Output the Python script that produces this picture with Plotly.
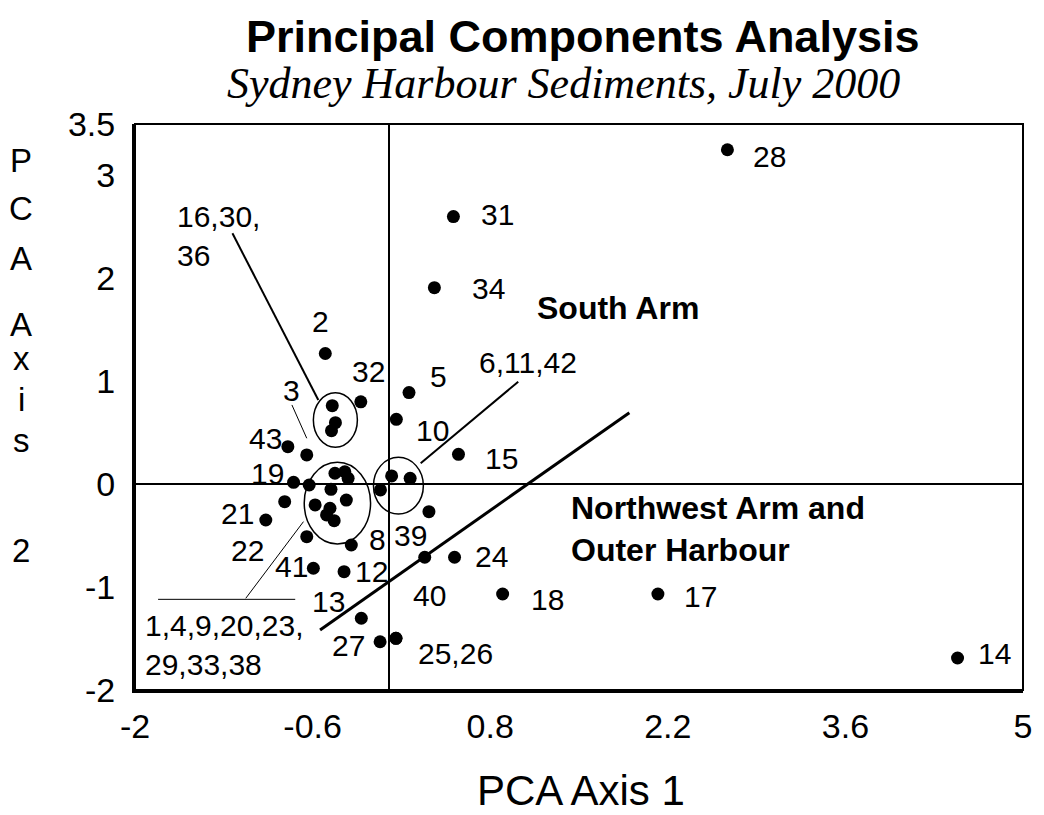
import plotly.graph_objects as go

# ---- data ----
sites = ["28", "31", "34", "2", "32", "5", "10", "15",
         "16", "30", "36", "3", "43", "19",
         "6", "11", "42",
         "1", "4", "9", "20", "23", "29", "33", "38",
         "unlabelled a", "unlabelled b", "unlabelled c",
         "21", "22", "41", "12", "8", "13", "27", "25", "26",
         "39", "40", "24", "18", "17", "14"]
pc1 = [2.67, 0.51, 0.36, -0.50, -0.22, 0.16, 0.06, 0.55,
       -0.445, -0.42, -0.451, -0.646, -0.795, -0.75,
       0.023, 0.169, -0.065,
       -0.424, -0.346, -0.320, -0.455, -0.334, -0.580, -0.463, -0.490,
       -0.430, -0.627, -0.820,
       -0.969, -0.646, -0.594, -0.352, -0.295, -0.216, -0.068, 0.057, 0.057,
       0.317, 0.284, 0.519, 0.898, 2.122, 4.484]
pc2 = [3.25, 2.60, 1.91, 1.27, 0.80, 0.89, 0.63, 0.29,
       0.763, 0.598, 0.520, 0.284, 0.364, 0.018,
       0.080, 0.057, -0.056,
       0.106, 0.121, 0.057, -0.050, -0.154, -0.202, -0.234, -0.299,
       -0.355, -0.008, -0.170,
       -0.348, -0.510, -0.817, -0.850, -0.591, -1.303, -1.531, -1.498, -1.498,
       -0.267, -0.710, -0.710, -1.067, -1.067, -1.689]

x_ticks = [-2, -0.6, 0.8, 2.2, 3.6, 5]
x_tick_labels = ["-2", "-0.6", "0.8", "2.2", "3.6", "5"]
y_ticks = [-2, -1, 0, 1, 2, 3, 3.5]
y_tick_labels = ["-2", "-1", "0", "1", "2", "3", "3.5"]

# point label text and where it sits (data coords)
label_text = ["28", "31", "34", "2", "32", "5", "6,11,42", "3", "10", "15",
              "43", "19", "21", "22", "41", "12", "8", "39", "13", "40",
              "24", "27", "25,26", "18", "17", "14"]
label_x = [3.004, 0.856, 0.789, -0.534, -0.159, 0.396, 1.094, -0.763, 0.344, 0.891,
           -0.971, -0.959, -1.193, -1.115, -0.763, -0.138, -0.091, 0.170, -0.477, 0.318,
           0.813, -0.320, 0.526, 1.25, 2.459, 4.772]
label_y = [3.183, 2.616, 1.904, 1.579, 1.093, 1.045, 1.178, 0.915, 0.520, 0.252,
           0.446, 0.106, -0.283, -0.646, -0.802, -0.850, -0.535, -0.494, -1.142, -1.077,
           -0.705, -1.563, -1.643, -1.125, -1.093, -1.650]

# group ellipses (x0, x1, y0, y1)
groups = [(-0.594, -0.247, 0.359, 0.889),
          (-0.666, -0.143, -0.581, 0.213),
          (-0.120, 0.273, -0.290, 0.261)]

# leader / divider lines (x0, y0, x1, y1, width)
leaders = [(-0.555, 0.818, -1.232, 2.438, 2),
           (-0.763, 0.770, -0.646, 0.446, 1),
           (0.252, 0.203, 1.021, 0.996, 2),
           (-0.672, -0.364, -1.127, -1.109, 1),
           (-1.818, -1.119, -0.737, -1.119, 1),
           (-0.541, -1.417, 1.897, 0.695, 3)]

SANS = "Liberation Sans, Arial, sans-serif"
SERIF = "Liberation Serif, Times New Roman, serif"
LBL = 30

fig = go.Figure()
fig.add_trace(go.Scatter(x=pc1, y=pc2, mode="markers", text=sites,
                         marker=dict(color="black", size=13),
                         hovertemplate="Site %{text}<br>%{x}, %{y}<extra></extra>",
                         showlegend=False))

shapes = []
for x0, x1, y0, y1 in groups:
    shapes.append(dict(type="circle", xref="x", yref="y", x0=x0, x1=x1, y0=y0, y1=y1,
                       line=dict(color="black", width=1.5)))
for x0, y0, x1, y1, w in leaders:
    shapes.append(dict(type="line", xref="x", yref="y", x0=x0, y0=y0, x1=x1, y1=y1,
                       line=dict(color="black", width=w)))
# frame
shapes.append(dict(type="rect", xref="paper", yref="paper", x0=0, x1=1, y0=0, y1=1,
                   line=dict(color="black", width=2)))

annotations = []
for t, lx, ly in zip(label_text, label_x, label_y):
    annotations.append(dict(x=lx, y=ly, xref="x", yref="y", text=t, showarrow=False,
                            font=dict(family=SANS, size=LBL, color="black")))
annotations.append(dict(x=-1.6875, y=2.412, xref="x", yref="y", text="16,30,<br>36",
                        showarrow=False, xanchor="left", align="left",
                        font=dict(family=SANS, size=LBL, color="black")))
annotations.append(dict(x=-1.9375, y=-1.563, xref="x", yref="y",
                        text="1,4,9,20,23,<br>29,33,38",
                        showarrow=False, xanchor="left", align="left",
                        font=dict(family=SANS, size=LBL, color="black")))
annotations.append(dict(x=1.811, y=1.712, xref="x", yref="y", text="<b>South Arm</b>",
                        showarrow=False, font=dict(family=SANS, size=32, color="black")))
annotations.append(dict(x=1.418, y=-0.435, xref="x", yref="y",
                        text="<b>Northwest Arm and</b><br><b>Outer Harbour</b>",
                        showarrow=False, xanchor="left", align="left",
                        font=dict(family=SANS, size=32, color="black")))

# titles
PX_TOP, PX_BOT, PX_L, PX_W = 124, 690, 135, 896
def py(p):
    return (PX_BOT - p) / (PX_BOT - PX_TOP)
def px(p):
    return (p - PX_L) / PX_W

annotations.append(dict(x=px(587), y=py(36), xref="paper", yref="paper",
                        xanchor="center", yanchor="middle",
                        text="<b>Principal Components Analysis</b>", showarrow=False,
                        font=dict(family=SANS, size=45, color="black")))
annotations.append(dict(x=px(567), y=py(84), xref="paper", yref="paper",
                        xanchor="center", yanchor="middle",
                        text="<i>Sydney Harbour Sediments, July 2000</i>", showarrow=False,
                        font=dict(family=SERIF, size=44, color="black")))
annotations.append(dict(x=px(585), y=py(790), xref="paper", yref="paper",
                        xanchor="center", yanchor="middle",
                        text="PCA Axis 1", showarrow=False,
                        font=dict(family=SANS, size=42, color="black")))
for ch, yy in zip(["P", "C", "A", "A", "x", "i", "s", "2"],
                  [160, 208, 258, 324, 358, 399, 440, 550]):
    annotations.append(dict(x=px(20), y=py(yy), xref="paper", yref="paper",
                            xanchor="center", yanchor="middle",
                            text=ch, showarrow=False,
                            font=dict(family=SANS, size=33, color="black")))

fig.update_layout(
    width=1044, height=815,
    margin=dict(l=135, r=13, t=124, b=125),
    paper_bgcolor="white", plot_bgcolor="white",
    shapes=shapes, annotations=annotations,
    xaxis=dict(range=[-2, 5], tickvals=x_ticks, ticktext=x_tick_labels,
               showgrid=False, zeroline=True, zerolinecolor="black", zerolinewidth=1.5,
               showline=True, linecolor="black", linewidth=3, ticks="",
               ticklabelstandoff=4,
               tickfont=dict(family=SANS, size=34, color="black")),
    yaxis=dict(range=[-2, 3.5], tickvals=y_ticks, ticktext=y_tick_labels,
               showgrid=False, zeroline=True, zerolinecolor="black", zerolinewidth=1.5,
               showline=True, linecolor="black", linewidth=3, ticks="",
               ticklabelstandoff=10,
               tickfont=dict(family=SANS, size=34, color="black")),
)

fig.write_html("out.html")
